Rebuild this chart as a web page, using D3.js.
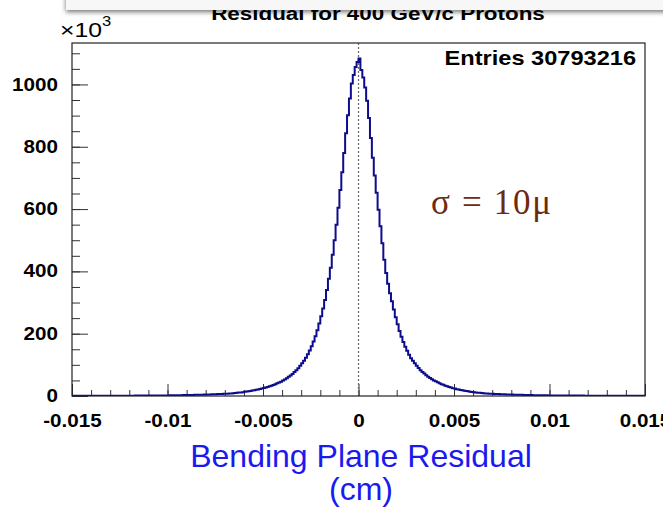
<!DOCTYPE html>
<html>
<head>
<meta charset="utf-8">
<script src="https://cdn.jsdelivr.net/npm/d3@7"></script>
<style>
  body { margin: 0; background: #fff; }
  svg { display: block; }
</style>
</head>
<body>
<div class="residualGraph"></div>
<script>
// bin contents (x10^3), from the centre outwards
const leftBinsOutward = [
  1072,1056,1030,1003,955,901,843,780,718,661,
  604,550,500,453,412,376,340,308,281,256,
  233,211,192,175,160,146,134,123,113,105,
  97,89,83,77,71,66,62,57,53,50,
  46,43,41,38,35,33,31,29,27,25.5,
  24,22.5,21,19.8,18.5,17.3,16.2,15.1,14.2,13.3,
  12.4,11.6,10.9,10.2,9.5,8.9,8.4,8.0,7.6,7.3,
  7.0,6.7,6.4,6.1,5.9,5.6,5.4,5.2,5.0,4.8,
  4.6,4.4,4.2,4.0,3.8,3.7,3.5,3.4,3.2,3.1,
  3.0,2.9,2.7,2.6,2.5,2.4,2.3,2.2,2.1,2.0,
  2.0,1.9,1.9,1.8,1.8,1.7,1.7,1.6,1.6,1.5,
  1.5,1.5,1.4,1.4,1.3,1.3,1.3,1.2,1.2,1.2,
  1.1,1.1,1.1,1.0,1.0,1.0,1.0,0.9,0.9,0.9,
  0.9,0.8,0.8,0.8,0.8,0.8,0.7,0.7,0.7,0.7,
  0.7,0.6,0.6,0.6,0.6,0.6,0.6,0.6,0.5,0.5
];
const rightBinsOutward = [
  1083,1046,1022,990,948,892,828,765,708,652,
  598,545,490,437,395,360,330,304,278,253,
  230,209,190,173,158,145,132,121,113,105,
  97,90,83,77,72,67,62,58,54,50,
  47,44,41,38,36,33,31,29,27,25,
  24,22,21,19.5,18.3,17.1,16,15,14,13.1,
  12.3,11.5,10.8,10.1,9.4,8.8,8.3,7.9,7.6,7.3,
  7.0,6.7,6.4,6.1,5.9,5.6,5.4,5.2,5.0,4.8,
  4.6,4.4,4.2,4.0,3.8,3.7,3.5,3.4,3.2,3.1,
  3.0,2.8,2.7,2.6,2.5,2.4,2.3,2.2,2.1,2.0,
  2.0,1.9,1.9,1.8,1.8,1.7,1.7,1.6,1.6,1.6,
  1.5,1.5,1.4,1.4,1.4,1.3,1.3,1.3,1.2,1.2,
  1.2,1.1,1.1,1.1,1.0,1.0,1.0,1.0,0.9,0.9,
  0.9,0.9,0.8,0.8,0.8,0.8,0.8,0.7,0.7,0.7,
  0.7,0.7,0.7,0.6,0.6,0.6,0.6,0.6,0.6,0.6
];
const binLow = -0.015;
const binWidth = 0.0001;

const xTicks = [-0.015, -0.01, -0.005, 0, 0.005, 0.01, 0.015];
const xTickLabels = ["-0.015", "-0.01", "-0.005", "0", "0.005", "0.01", "0.015"];
const yTicks = [0, 200, 400, 600, 800, 1000];
const yTickLabels = ["0", "200", "400", "600", "800", "1000"];

const titleText = "Residual for 400 GeV/c Protons";
const entriesText = "Entries 30793216";
const sigmaText = "\u03C3 = 10\u03BC";
const xTitleLines = ["Bending Plane Residual", "(cm)"];

// root picture is stretched sideways on the slide
const sx = 1.18;

const W = 663, H = 513;
const margin = {top: 43, right: 18, bottom: 117, left: 72};
const width = W - margin.left - margin.right;
const height = H - margin.top - margin.bottom;

const xScale = d3.scaleLinear().domain([-0.015, 0.015]).range([0, width]);
const yScale = d3.scaleLinear().domain([0, 1133]).range([height, 0]);

const counts = leftBinsOutward.slice().reverse().concat(rightBinsOutward);
const points = counts.map((v, i) => ({x: binLow + i * binWidth, y: v}));
points.push({x: binLow + counts.length * binWidth, y: counts[counts.length - 1]});

const svg = d3.select(".residualGraph").append("svg")
  .attr("width", W)
  .attr("height", H);

const defs = svg.append("defs");
defs.append("clipPath").attr("id", "frameClip")
  .append("rect").attr("width", width).attr("height", height);
const shadow = defs.append("filter").attr("id", "shadow")
  .attr("x", "-10%").attr("y", "-50%").attr("width", "120%").attr("height", "200%");
shadow.append("feDropShadow")
  .attr("dx", 0).attr("dy", 2).attr("stdDeviation", 2.5)
  .attr("flood-color", "#000").attr("flood-opacity", 0.55);

const font = "'Liberation Sans', Arial, Helvetica, sans-serif";

// title (partly hidden under the slide box)
svg.append("text")
  .attr("transform", `translate(378,20) scale(${sx},1)`)
  .attr("text-anchor", "middle")
  .style("font-family", font).style("font-weight", "bold").style("font-size", "19px")
  .text(titleText);

svg.append("rect")
  .attr("x", 66).attr("y", -30).attr("width", 640).attr("height", 40)
  .attr("fill", "#f7f7f7")
  .attr("filter", "url(#shadow)");

const g = svg.append("g")
  .attr("transform", "translate(" + margin.left + "," + margin.top + ")");

// x10^3
const expo = svg.append("text")
  .attr("transform", `translate(60,37) scale(${sx},1)`)
  .style("font-family", font).style("font-size", "21px");
expo.append("tspan").text("\u00D710");
expo.append("tspan").attr("dy", -11).style("font-size", "14px").text("3");

// minor ticks
g.append("g")
  .attr("transform", "translate(0," + height + ")")
  .call(d3.axisBottom(xScale).ticks(30).tickSize(-6).tickFormat(""))
  .call(a => a.select(".domain").remove())
  .selectAll("line").attr("stroke", "#333");

g.append("g")
  .call(d3.axisLeft(yScale).tickValues(d3.range(0, 1133, 50)).tickSize(-8).tickFormat(""))
  .call(a => a.select(".domain").remove())
  .selectAll("line").attr("stroke", "#333");

// major ticks + labels
const xAxis = g.append("g")
  .attr("class", "x axis")
  .attr("transform", "translate(0," + height + ")")
  .call(d3.axisBottom(xScale).tickValues(xTicks).tickSize(-12).tickPadding(19)
    .tickFormat((d, i) => xTickLabels[i]));
xAxis.select(".domain").remove();
xAxis.selectAll("line").attr("stroke", "#333");
xAxis.selectAll("text")
  .attr("transform", `scale(${sx},1)`)
  .style("font-family", font).style("font-weight", "bold").style("font-size", "17.5px")
  .attr("fill", "#000");

const yAxis = g.append("g")
  .attr("class", "y axis")
  .call(d3.axisLeft(yScale).tickValues(yTicks).tickSize(-16)
    .tickFormat((d, i) => yTickLabels[i]));
yAxis.select(".domain").remove();
yAxis.selectAll("line").attr("stroke", "#333");
yAxis.selectAll("text")
  .attr("x", -14 / sx)
  .attr("transform", `scale(${sx},1)`)
  .style("font-family", font).style("font-weight", "bold").style("font-size", "17.5px")
  .attr("fill", "#000");

// dotted line at zero
g.append("line")
  .attr("x1", xScale(0)).attr("x2", xScale(0))
  .attr("y1", 0).attr("y2", height)
  .attr("stroke", "#666").attr("stroke-width", 1.2)
  .attr("stroke-dasharray", "2,2");

// histogram outline
const line = d3.line()
  .x(d => xScale(d.x))
  .y(d => yScale(d.y))
  .curve(d3.curveStepAfter);

g.append("path")
  .datum(points)
  .attr("clip-path", "url(#frameClip)")
  .attr("fill", "none")
  .attr("stroke", "#0c0c8c")
  .attr("stroke-width", 2)
  .attr("d", line);

// frame
g.append("rect")
  .attr("width", width).attr("height", height)
  .attr("fill", "none")
  .attr("stroke", "#222").attr("stroke-width", 1.2);

// stats
svg.append("text")
  .attr("transform", `translate(636,65) scale(${sx},1)`)
  .attr("text-anchor", "end")
  .style("font-family", font).style("font-weight", "bold").style("font-size", "20px")
  .text(entriesText);

// sigma note
svg.append("text")
  .attr("x", 431).attr("y", 214)
  .attr("textLength", 120).attr("lengthAdjust", "spacing")
  .style("font-family", "'Liberation Serif', 'Times New Roman', serif")
  .style("font-size", "35px")
  .attr("fill", "#6e2a0c")
  .text(sigmaText);

// axis title
svg.selectAll(".xtitle")
  .data(xTitleLines)
  .enter().append("text")
  .attr("class", "xtitle")
  .attr("x", 361)
  .attr("y", (d, i) => 467 + i * 33)
  .attr("text-anchor", "middle")
  .style("font-family", font).style("font-size", "32px")
  .attr("fill", "#1a1aee")
  .text(d => d);
</script>
</body>
</html>
